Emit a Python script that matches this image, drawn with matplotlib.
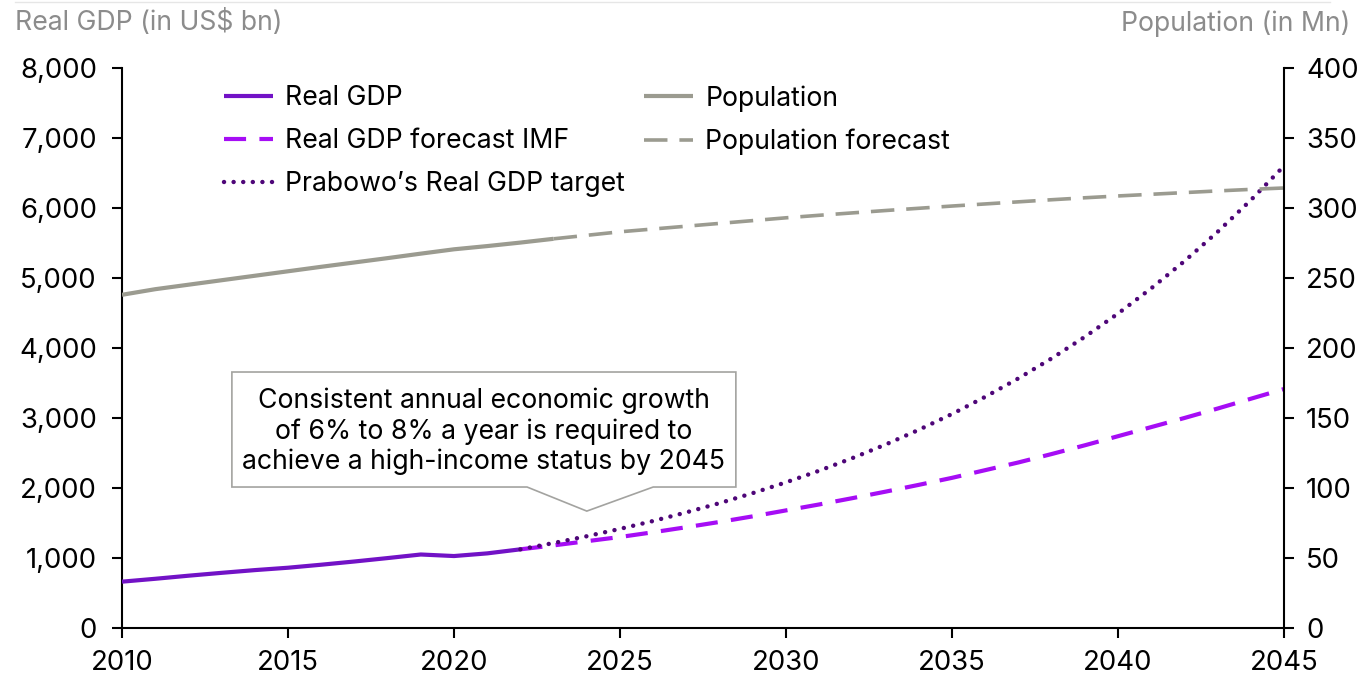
import matplotlib
matplotlib.use("Agg")
import matplotlib.pyplot as plt
from matplotlib.patches import Polygon
from matplotlib.lines import Line2D

# ---- data ----
gdp_years = list(range(2010, 2023))
gdp_actual = [662, 703, 747, 788, 827, 861, 904, 950, 999, 1050, 1028, 1066, 1124]

fc_years = list(range(2022, 2046))
gdp_imf = [1124, 1180, 1240, 1300, 1368, 1440, 1515, 1595, 1680, 1765, 1855, 1948,
           2045, 2145, 2255, 2365, 2485, 2610, 2740, 2870, 3000, 3135, 3275, 3414]
gdp_target = [1124, 1214, 1311, 1416, 1529, 1652, 1784, 1927, 2081, 2247, 2427, 2621,
              2831, 3057, 3302, 3566, 3851, 4159, 4492, 4852, 5240, 5659, 6112, 6600]

pop_years = list(range(2010, 2024))
pop_actual = [238, 242, 245.2, 248.4, 251.6, 254.8, 258, 261.1, 264.2, 267.4,
              270.5, 272.8, 275.3, 278]
popf_years = list(range(2023, 2046))
pop_forecast = [278, 280.5, 283, 285, 287, 289, 291, 293, 294.8, 296.5, 298.2, 299.8,
                301.4, 302.9, 304.4, 305.9, 307.3, 308.6, 309.8, 311, 312.2, 313.3, 314.3]

x_ticks = [2010, 2015, 2020, 2025, 2030, 2035, 2040, 2045]
left_ticks = [0, 1000, 2000, 3000, 4000, 5000, 6000, 7000, 8000]
right_ticks = [0, 50, 100, 150, 200, 250, 300, 350, 400]

# ---- style ----
FONT = ["Inter", "DejaVu Sans"]
plt.rcParams["font.family"] = FONT
FS = 19.2
FS_TICK = 19.8
C_GDP = "#7212C6"
C_IMF = "#A60DF5"
C_TGT = "#4E0678"
C_POP = "#9B9B90"
C_AX = "#8C8C8C"

fig = plt.figure(figsize=(13.65, 6.74), dpi=100)
ax = fig.add_axes([122 / 1365, 1 - 628 / 674, (1284 - 122) / 1365, (628 - 68) / 674])
ax2 = ax.twinx()

l1, = ax.plot(gdp_years, gdp_actual, color=C_GDP, lw=3, solid_capstyle="butt",
              label="Real GDP", zorder=5)
l2, = ax.plot(fc_years, gdp_imf, color=C_IMF, lw=3, dashes=(5.3, 3.2),
              label="Real GDP forecast IMF", zorder=4)
l3, = ax.plot(fc_years, gdp_target, color=C_TGT, lw=3.2, dashes=(0.01, 2.15),
              dash_capstyle="round", label="Prabowo\u2019s Real GDP target", zorder=6)
p1, = ax2.plot(pop_years, pop_actual, color=C_POP, lw=3, solid_capstyle="butt",
               label="Population")
p2, = ax2.plot(popf_years, pop_forecast, color=C_POP, lw=2.6, dashes=(6.5, 3.3),
               label="Population forecast")

ax.set_xlim(2010, 2045)
ax.set_ylim(0, 8000)
ax2.set_ylim(0, 400)
ax.set_xticks(x_ticks)
ax.set_yticks(left_ticks)
ax2.set_yticks(right_ticks)
ax.set_yticklabels([f"{v:,}" for v in left_ticks])
ax.set_xticklabels([str(v) for v in x_ticks])
ax2.set_yticklabels([str(v) for v in right_ticks])

for a in (ax, ax2):
    for s in a.spines.values():
        s.set_linewidth(1.5)
        s.set_color("black")
    a.spines["top"].set_visible(False)
ax.spines["right"].set_visible(False)
ax2.spines["left"].set_visible(False)
ax2.spines["bottom"].set_visible(False)

ax.tick_params(axis="y", length=7, width=1.5, pad=11, labelsize=FS_TICK, direction="out")
ax.tick_params(axis="x", length=7, width=1.5, pad=9, labelsize=FS_TICK, direction="out")
ax2.tick_params(axis="y", length=7, width=1.5, pad=9, labelsize=FS_TICK, direction="out")

# axis titles
fig.text(15 / 1365, 1 - 22 / 674, "Real GDP (in US$ bn)", ha="left", va="center",
         color=C_AX, fontsize=FS)
fig.text(1350 / 1365, 1 - 24 / 674, "Population (in Mn)", ha="right", va="center",
         color=C_AX, fontsize=FS)
fig.add_artist(Line2D([15 / 1365, 1330 / 1365], [1 - 2 / 674, 1 - 2 / 674],
                      color="#E6E6E6", lw=1))

# legends
leg_kw = dict(frameon=False, fontsize=FS, handlelength=1.85, handletextpad=0.45,
              labelspacing=0.64, borderpad=0, borderaxespad=0, loc="upper left",
              bbox_transform=fig.transFigure)
leg1 = ax2.legend(handles=[l1, l2, l3], bbox_to_anchor=(224 / 1365, 1 - 85 / 674), **leg_kw)
ax2.add_artist(leg1)
leg2 = ax2.legend(handles=[p1, p2], bbox_to_anchor=(644 / 1365, 1 - 85 / 674), **leg_kw)

# callout box (data coordinates)
bx0, bx1 = 2013.31, 2028.49
by0, by1 = 2014, 3657
tip_x, tip_y = 2024.0, 1670
base0, base1 = 2022.2, 2026.0
poly = Polygon([(bx0, by1), (bx1, by1), (bx1, by0), (base1, by0), (tip_x, tip_y),
                (base0, by0), (bx0, by0)], closed=True, facecolor="white",
               edgecolor="#A3A3A0", lw=1.2, zorder=7)
ax.add_patch(poly)
ax.text((bx0 + bx1) / 2, (by0 + by1) / 2 - 25,
        "Consistent annual economic growth\nof 6% to 8% a year is required to\n"
        "achieve a high-income status by 2045",
        ha="center", va="center", fontsize=FS, linespacing=1.2, zorder=8)

fig.savefig("out.png", dpi=100)
